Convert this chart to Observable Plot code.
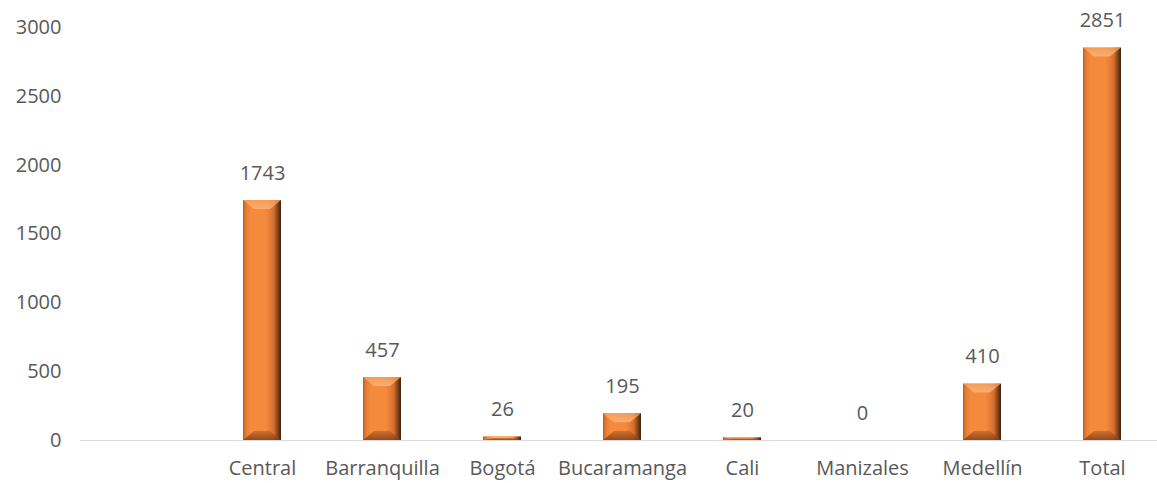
<!DOCTYPE html>
<html>
<head>
<meta charset="utf-8">
<script src="https://cdn.jsdelivr.net/npm/d3@7"></script>
<script src="https://cdn.jsdelivr.net/npm/@observablehq/plot@0.6"></script>
<style>
  html, body { margin: 0; padding: 0; background: #fff; }
  #chart { width: 1157px; height: 483px; }
</style>
</head>
<body>
<div id="chart"></div>
<script>
const categories = ["Central", "Barranquilla", "Bogotá", "Bucaramanga", "Cali", "Manizales", "Medellín", "Total"];
const values = [1743, 457, 26, 195, 20, 0, 410, 2851];
const yTicks = [0, 500, 1000, 1500, 2000, 2500, 3000];
const domainX = [""].concat(categories);

const data = categories.map((c, i) => ({cat: c, value: values[i]}));

const FONT = "'Open Sans', 'Liberation Sans', sans-serif";
const TEXT = "#595959";

const svg = Plot.plot({
  width: 1157,
  height: 483,
  marginLeft: 80,
  marginRight: 0,
  marginTop: 27,
  marginBottom: 43,
  style: {fontFamily: FONT, fontSize: "20px", color: TEXT, background: "#fff", overflow: "visible"},
  x: {domain: domainX, range: [80, 1164], paddingInner: 0.685, paddingOuter: 0.334, label: null},
  y: {domain: [0, 3000], ticks: yTicks, label: null},
  marks: [
    Plot.axisY({ticks: yTicks, tickFormat: d => String(d), tickSize: 0, tickPadding: 19, fontSize: 20, fill: TEXT, label: null}),
    Plot.axisX({tickSize: 0, tickPadding: 20, fontSize: 20, fill: TEXT, label: null}),
    Plot.ruleY([0], {stroke: "#d9d9d9", strokeWidth: 1}),
    Plot.barY(data, {x: "cat", y: "value", fill: "url(#barGrad)", className: "bars"}),
    Plot.text(data, {x: "cat", y: "value", text: d => String(d.value), dy: -27, fontSize: 20, fill: TEXT})
  ]
});

// gradient definitions
const ns = "http://www.w3.org/2000/svg";
const defs = document.createElementNS(ns, "defs");
defs.innerHTML = `
  <linearGradient id="barGrad" x1="0" y1="0" x2="1" y2="0">
    <stop offset="0" stop-color="#b85a22"/>
    <stop offset="0.07" stop-color="#e57c34"/>
    <stop offset="0.2" stop-color="#f58a3c"/>
    <stop offset="0.6" stop-color="#f48a3c"/>
    <stop offset="0.8" stop-color="#d97230"/>
    <stop offset="0.9" stop-color="#8e4a1c"/>
    <stop offset="1" stop-color="#3d200d"/>
  </linearGradient>
  <linearGradient id="topGrad" x1="0" y1="0" x2="0" y2="1">
    <stop offset="0" stop-color="#f7a05c"/>
    <stop offset="1" stop-color="#fbbb85"/>
  </linearGradient>
  <linearGradient id="botGrad" x1="0" y1="0" x2="0" y2="1">
    <stop offset="0" stop-color="#c8682a"/>
    <stop offset="1" stop-color="#7a3e16"/>
  </linearGradient>`;
svg.insertBefore(defs, svg.firstChild);

// bevel overlays derived from the rendered bars
svg.querySelectorAll("g.bars rect").forEach(r => {
  const x = +r.getAttribute("x"), y = +r.getAttribute("y");
  const w = +r.getAttribute("width"), h = +r.getAttribute("height");
  if (!(h > 2)) return;
  const b = Math.min(9, h / 2), s = Math.min(11, w / 3);
  const top = document.createElementNS(ns, "polygon");
  top.setAttribute("points", `${x},${y} ${x + w},${y} ${x + w - s},${y + b} ${x + s},${y + b}`);
  top.setAttribute("fill", "url(#topGrad)");
  top.setAttribute("opacity", "0.75");
  const bot = document.createElementNS(ns, "polygon");
  bot.setAttribute("points", `${x + s},${y + h - b} ${x + w - s},${y + h - b} ${x + w},${y + h} ${x},${y + h}`);
  bot.setAttribute("fill", "url(#botGrad)");
  bot.setAttribute("opacity", "0.8");
  r.parentNode.appendChild(top);
  r.parentNode.appendChild(bot);
});

document.getElementById("chart").appendChild(svg);
</script>
</body>
</html>
